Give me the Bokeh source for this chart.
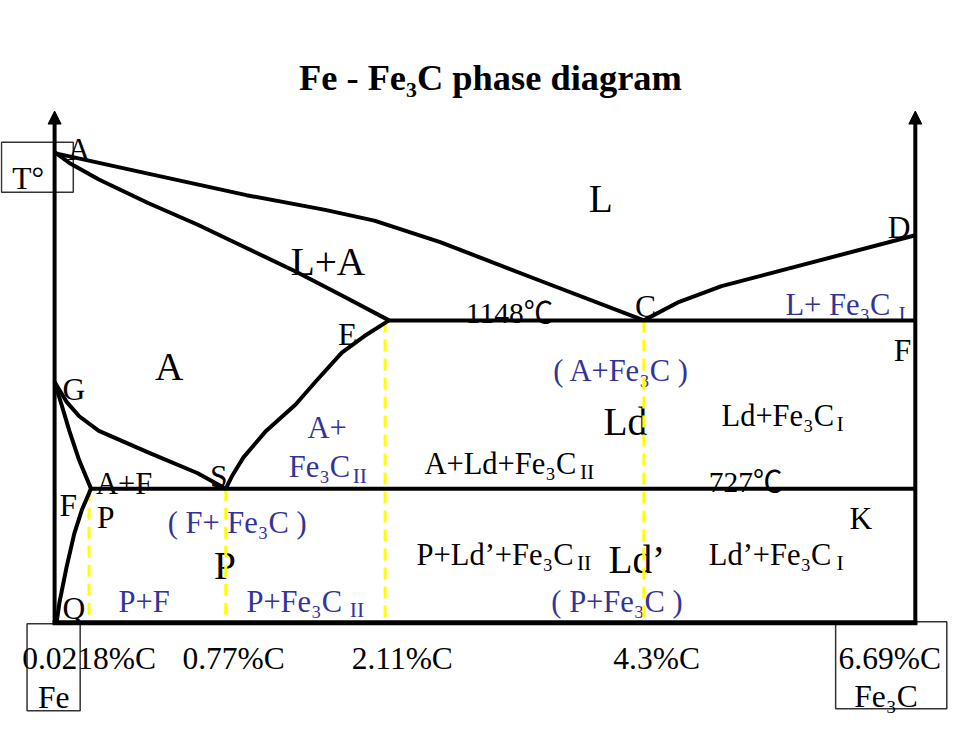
from bokeh.plotting import figure
from bokeh.models import Range1d, Arrow, NormalHead
from bokeh.core.properties import value
from bokeh.embed import file_html
from bokeh.resources import INLINE

# ---- diagram geometry (layout units of the schematic drawing) ----
liquidus_AC_x = [55, 150, 250, 330, 380, 447, 550, 654]
liquidus_AC_y = [156, 177, 199, 214, 225, 247, 287, 327]
liquidus_CD_x = [654, 690, 733, 930]
liquidus_CD_y = [327, 308, 292, 240]
solidus_AE_x = [55, 70, 100, 150, 200, 250, 300, 350, 395]
solidus_AE_y = [155, 166, 183, 207, 229, 253, 277, 303, 327]
acm_ES_x = [395, 370, 347, 320, 300, 270, 247, 236, 229]
acm_ES_y = [327, 343, 360, 390, 413, 440, 467, 485, 499]
a3_GS_x = [55, 67, 80, 100, 150, 200, 229]
a3_GS_y = [390, 410, 425, 440, 462, 483, 499]
GP_x = [55, 62, 70, 80, 92]
GP_y = [390, 413, 440, 470, 499]
PQ_x = [92, 83, 75, 67, 60, 57]
PQ_y = [499, 520, 545, 580, 615, 636]
eutectic_x = [395, 930]
eutectic_y = [327, 327]
eutectoid_x = [90, 930]
eutectoid_y = [499, 499]
axis_left_x, axis_right_x, axis_bottom_y, axis_top_y = 55, 930, 636, 113

guide_x = [90, 229, 391, 654]
guide_top = [499, 499, 327, 327]

FONT = value("Liberation Serif")
FONT_T = value("Liberation Serif, Noto Sans CJK SC")
BLUE = "#333399"

# ---- text content ----
point_names = ["A", "C", "D", "E", "F", "G", "S", "F", "P", "Q", "K"]
point_x = [68, 645, 902, 343, 908, 63, 213, 60, 98, 63, 863]
point_y = [152, 313, 232, 341, 358, 398, 487, 516, 528, 622, 530]

big_labels = ["L", "L+A", "A", "Ld", "Ld\u2019", "P"]
big_x = [598, 295, 157, 613, 618, 217]
big_y = [203, 267, 375, 431, 572, 578]

blue_labels = ["A+", "Fe\u2083C", "( A+Fe\u2083C )", "L+ Fe\u2083C", "( F+ Fe\u2083C )",
               "P+F", "P+Fe\u2083C", "( P+Fe\u2083C )"]
blue_x = [312, 293, 562, 798, 170, 120, 250, 560]
blue_y = [437, 477, 379, 311, 534, 615, 615, 615]
blue_sub = ["II", "I", "II"]
blue_sub_x = [358, 913, 355]
blue_sub_y = [486, 320, 623]

black_labels = ["A+Ld+Fe\u2083C", "Ld+Fe\u2083C", "P+Ld\u2019+Fe\u2083C", "Ld\u2019+Fe\u2083C", "A+F"]
black_x = [431, 733, 423, 720, 97]
black_y = [474, 425, 567, 567, 494]
black_sub = ["II", "I", "II", "I"]
black_sub_x = [589, 850, 586, 850]
black_sub_y = [482, 433, 575, 575]

temp_labels = ["1148\u2103", "727\u2103"]
temp_x = [473, 720]
temp_y = [319, 492]

tick_labels = ["0.0218%C", "0.77%C", "2.11%C", "4.3%C", "6.69%C", "Fe", "Fe\u2083C", "T\u00b0"]
tick_x = [22, 185, 357, 623, 852, 38, 868, 12]
tick_y = [673, 673, 673, 673, 673, 712, 711, 182]

box_left = [1, 27, 849]
box_right = [74, 81, 962]
box_top = [145, 637, 635]
box_bottom = [196, 726, 724]

title_text = "Fe - Fe\u2083C phase diagram"

W, H = 964, 719
S = W / 980.0  # drawing units -> screen pixels


def fs(px):
    return "%.1fpx" % (px * S)


p = figure(width=W, height=H, output_backend="svg", toolbar_location=None,
           x_range=Range1d(0, 980), y_range=Range1d(735, 0),
           x_axis_type=None, y_axis_type=None, min_border=0,
           outline_line_color=None, background_fill_color="white")
p.grid.visible = False

# boxes
p.quad(left=box_left, right=box_right, top=box_top, bottom=box_bottom,
       fill_alpha=0, line_color="#333333", line_width=1.5)

# texts
p.text(x=[498], y=[79], text=[title_text], text_font=FONT, text_font_style="bold",
       text_font_size=fs(37), text_align="center", text_baseline="alphabetic", text_color="black")
p.text(x=point_x, y=point_y, text=point_names, text_font=FONT, text_font_size=fs(32),
       text_baseline="alphabetic", text_color="black")
p.text(x=big_x, y=big_y, text=big_labels, text_font=FONT, text_font_size=fs(40),
       text_baseline="alphabetic", text_color="black")
p.text(x=blue_x, y=blue_y, text=blue_labels, text_font=FONT, text_font_size=fs(31),
       text_baseline="alphabetic", text_color=BLUE)
p.text(x=blue_sub_x, y=blue_sub_y, text=blue_sub, text_font=FONT, text_font_size=fs(22),
       text_baseline="alphabetic", text_color=BLUE)
p.text(x=black_x, y=black_y, text=black_labels, text_font=FONT, text_font_size=fs(31),
       text_baseline="alphabetic", text_color="black")
p.text(x=black_sub_x, y=black_sub_y, text=black_sub, text_font=FONT, text_font_size=fs(22),
       text_baseline="alphabetic", text_color="black")
p.text(x=temp_x, y=temp_y, text=temp_labels, text_font=FONT_T, text_font_size=fs(30),
       text_baseline="alphabetic", text_color="black")
p.text(x=tick_x, y=tick_y, text=tick_labels, text_font=FONT, text_font_size=fs(32),
       text_baseline="alphabetic", text_color="black")

# yellow guides
p.segment(x0=guide_x, x1=guide_x, y0=guide_top, y1=[axis_bottom_y] * len(guide_x),
          line_color="#ffff00", line_width=3, line_dash="12 7")

# phase boundaries
LW = 4
for xs, ys in [(liquidus_AC_x, liquidus_AC_y), (liquidus_CD_x, liquidus_CD_y),
               (solidus_AE_x, solidus_AE_y), (acm_ES_x, acm_ES_y), (a3_GS_x, a3_GS_y),
               (GP_x, GP_y), (PQ_x, PQ_y), (eutectic_x, eutectic_y), (eutectoid_x, eutectoid_y)]:
    p.line(xs, ys, line_color="black", line_width=LW, line_join="round")

# axes
p.line([axis_left_x - 2, axis_right_x + 2], [axis_bottom_y, axis_bottom_y], line_color="black", line_width=5)
for ax in (axis_left_x, axis_right_x):
    p.add_layout(Arrow(end=NormalHead(size=13, fill_color="black", line_color="black"),
                       x_start=ax, y_start=axis_bottom_y + 2, x_end=ax, y_end=axis_top_y,
                       line_color="black", line_width=4))

open("out.html", "w").write(file_html(p, INLINE))
